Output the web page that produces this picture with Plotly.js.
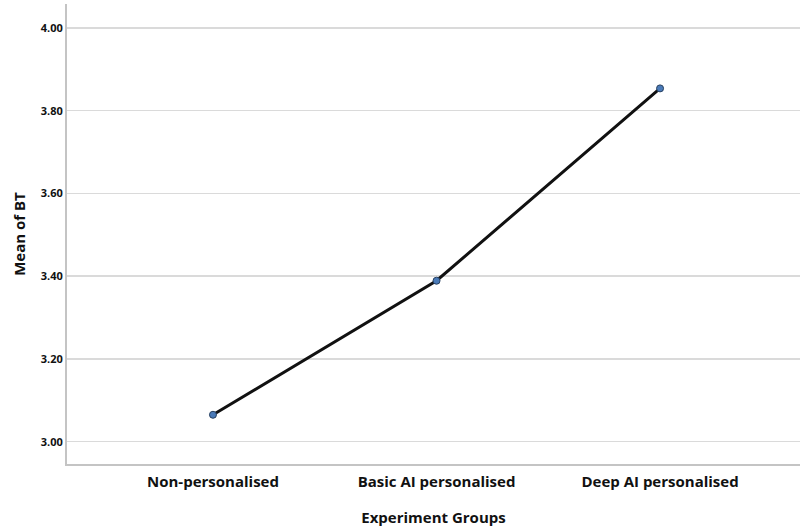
<!DOCTYPE html>
<html>
<head>
<meta charset="utf-8">
<script src="https://cdn.plot.ly/plotly-3.0.1.min.js"></script>
<style>html,body{margin:0;padding:0;background:#fff;}#chart{width:801px;height:531px;}</style>
</head>
<body>
<div id="chart"></div>
<script>
const groups = ["Non-personalised", "Basic AI personalised", "Deep AI personalised"];
const meanBT = [3.065, 3.389, 3.854];
const yTickValues = [3.0, 3.2, 3.4, 3.6, 3.8, 4.0];

const font = "'Open Sans', 'Noto Sans', sans-serif";

const trace = {
  x: [0, 1, 2],
  y: meanBT,
  type: "scatter",
  mode: "lines+markers",
  line: {color: "#111111", width: 3},
  marker: {size: 7, color: "#4a7ab8", line: {color: "#27405f", width: 1}},
  hoverinfo: "skip"
};

const layout = {
  width: 801, height: 531,
  margin: {l: 67, r: 1, t: 4, b: 67},
  paper_bgcolor: "#ffffff",
  plot_bgcolor: "#ffffff",
  showlegend: false,
  font: {family: font, color: "#111"},
  xaxis: {
    range: [-0.653, 2.626],
    tickvals: [0, 1, 2],
    ticktext: groups,
    tickfont: {family: font, size: 15, color: "#111", weight: "bold"},
    ticklabelstandoff: 3,
    showgrid: false,
    zeroline: false,
    showline: true, linecolor: "#c4c4c4", linewidth: 2,
    ticks: "", ticklen: 0,
    title: {text: "<b>Experiment Groups</b>", font: {family: font, size: 15, color: "#111"}, standoff: 22}
  },
  yaxis: {
    range: [2.946, 4.058],
    tickvals: yTickValues,
    tickformat: ".2f",
    tickfont: {family: font, size: 11, color: "#111", weight: "bold"},
    showgrid: true, gridcolor: "#dadada", gridwidth: 1.5,
    zeroline: false,
    showline: true, linecolor: "#c4c4c4", linewidth: 2,
    ticks: "", ticklen: 0,
    title: {text: "<b>Mean of BT</b>", font: {family: font, size: 15, color: "#111"}, standoff: 12}
  }
};

Plotly.newPlot("chart", [trace], layout, {displayModeBar: false, staticPlot: true});
</script>
</body>
</html>
